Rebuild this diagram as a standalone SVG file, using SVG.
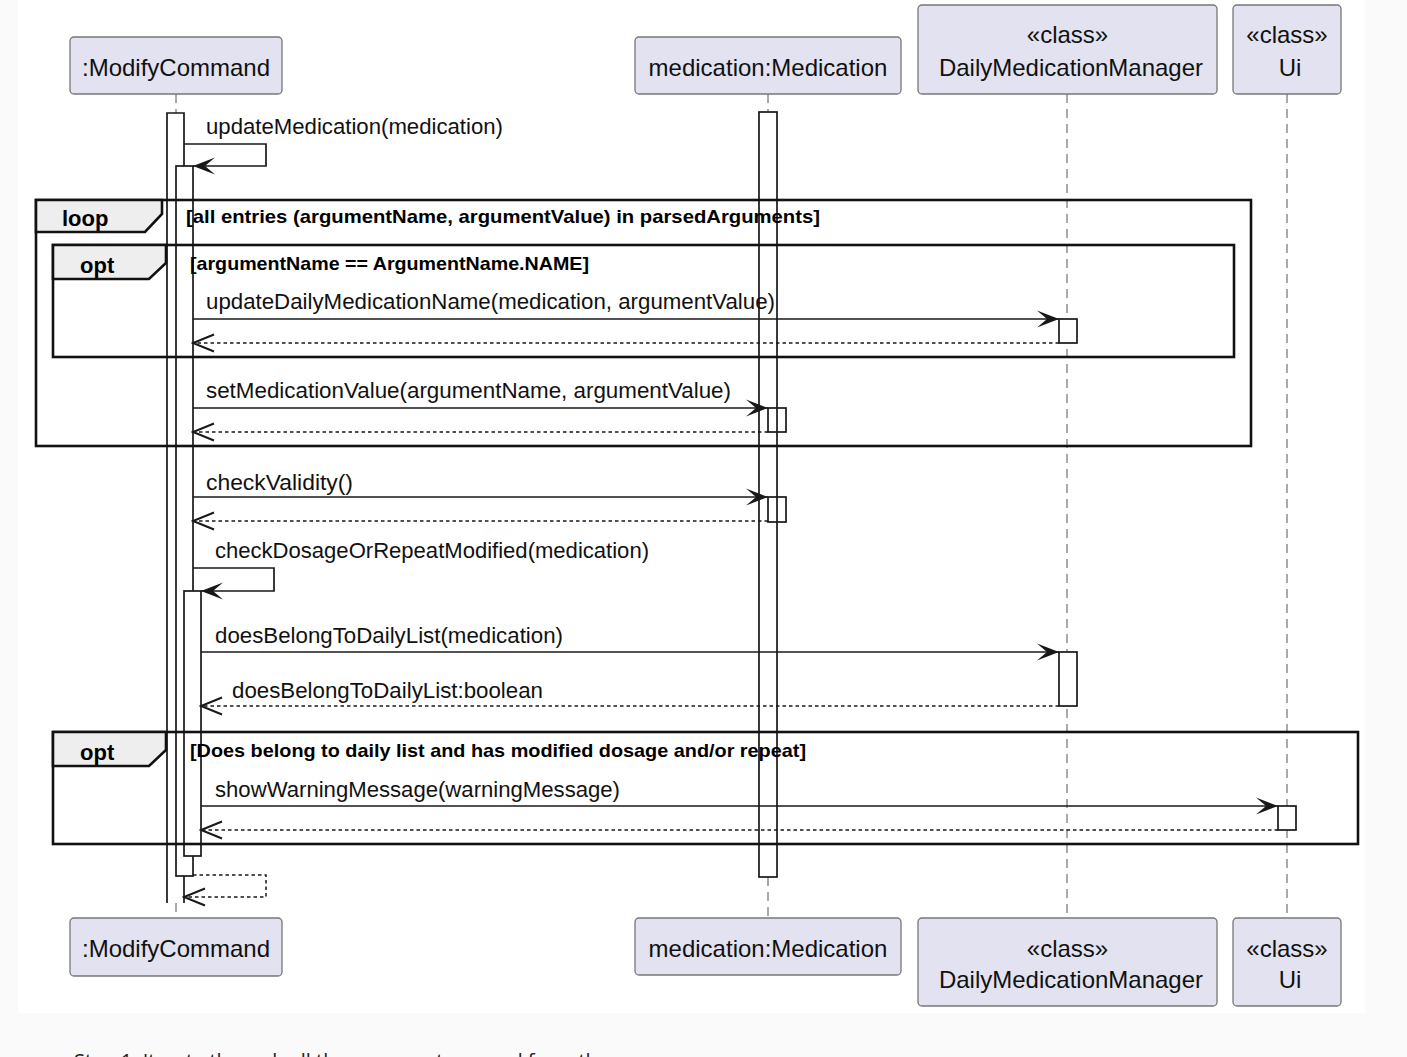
<svg xmlns="http://www.w3.org/2000/svg" width="1407" height="1057" viewBox="0 0 1407 1057">
<style>
.part{fill:#E2E2F0;stroke:#777;stroke-width:1.3}
.ptxt{font-family:"Liberation Sans",Arial,sans-serif;font-size:24px;fill:#111;text-anchor:middle}
.life{stroke:#555;stroke-width:1;stroke-dasharray:9 6;fill:none}
.act{fill:#fff;stroke:#181818;stroke-width:1.7}
.actn{fill:none;stroke:#181818;stroke-width:1.7}
.frame{fill:none;stroke:#111;stroke-width:2.6}
.tab{fill:#EEEEEE;stroke:#111;stroke-width:2.6}
.ftxt{font-family:"Liberation Sans",Arial,sans-serif;font-size:22px;font-weight:bold;fill:#000}
.gtxt{font-family:"Liberation Sans",Arial,sans-serif;font-size:19px;font-weight:bold;fill:#000}
.msg{fill:none;stroke:#181818;stroke-width:1.7}
.ret{fill:none;stroke:#181818;stroke-width:1.5;stroke-dasharray:3.5 3}
.mtxt{font-family:"Liberation Sans",Arial,sans-serif;font-size:22px;fill:#111}
</style>
<defs>
<marker id="ah" viewBox="-24 -10 26 20" refX="0" refY="0" markerWidth="26" markerHeight="20" markerUnits="userSpaceOnUse" orient="auto">
<polygon points="0,0 -22,-8.5 -12,0 -22,8.5" fill="#181818"/>
</marker>
<marker id="oh" viewBox="-24 -10 26 20" refX="0" refY="0" markerWidth="26" markerHeight="20" markerUnits="userSpaceOnUse" orient="auto">
<polyline points="-21,-8.5 0,0 -21,8.5" fill="none" stroke="#181818" stroke-width="2"/>
</marker>
</defs>
<rect x="0" y="0" width="1407" height="1057" fill="#fafafa"/>
<rect x="18" y="0" width="1347" height="1013" fill="#ffffff"/>

<g id="lifelines">
<line class="life" x1="176" y1="94" x2="176" y2="113"/>
<line class="life" x1="176" y1="903" x2="176" y2="918"/>
<line class="life" x1="768" y1="94" x2="768" y2="112"/>
<line class="life" x1="768" y1="877" x2="768" y2="918"/>
<line class="life" x1="1067" y1="94" x2="1067" y2="918"/>
<line class="life" x1="1287" y1="94" x2="1287" y2="918"/>
</g>

<g id="activations">
<path class="act" d="M167,903 V113 H184 V903"/>
<rect class="act" x="176" y="166" width="17" height="710"/>
<rect class="act" x="184" y="591" width="17" height="265"/>
<rect class="act" x="759" y="112" width="18" height="765"/>
<rect class="actn" x="768" y="408" width="18" height="24"/>
<rect class="actn" x="768" y="497" width="18" height="25"/>
<rect class="act" x="1059" y="319" width="18" height="24"/>
<rect class="act" x="1059" y="652" width="18" height="54"/>
<rect class="act" x="1278" y="806" width="18" height="24"/>
</g>

<g id="frames">
<g id="loop1">
<rect class="frame" x="36" y="200" width="1215" height="246"/>
<path class="tab" d="M36,200 H162 V214 L145,232 H36 Z"/>
<text class="ftxt" x="62" y="226">loop</text>
<text class="gtxt" x="186" y="223" textLength="634" lengthAdjust="spacingAndGlyphs">[all entries (argumentName, argumentValue) in parsedArguments]</text>
</g>
<g id="opt1">
<rect class="frame" x="53" y="245" width="1181" height="112"/>
<path class="tab" d="M53,245 H166 V263 L149,279 H53 Z"/>
<text class="ftxt" x="80" y="273">opt</text>
<text class="gtxt" x="190" y="270" textLength="399" lengthAdjust="spacingAndGlyphs">[argumentName == ArgumentName.NAME]</text>
</g>
<g id="opt2">
<rect class="frame" x="53" y="732" width="1305" height="112"/>
<path class="tab" d="M53,732 H166 V750 L149,766 H53 Z"/>
<text class="ftxt" x="80" y="760">opt</text>
<text class="gtxt" x="190" y="757" textLength="616" lengthAdjust="spacingAndGlyphs">[Does belong to daily list and has modified dosage and/or repeat]</text>
</g>
</g>

<g id="connectors">
<path class="msg" d="M184,144 H266 V166 H193" marker-end="url(#ah)"/>
<text class="mtxt" x="206" y="134" textLength="297" lengthAdjust="spacingAndGlyphs">updateMedication(medication)</text>

<line class="msg" x1="193" y1="319" x2="1059" y2="319" marker-end="url(#ah)"/>
<text class="mtxt" x="206" y="309" textLength="569" lengthAdjust="spacingAndGlyphs">updateDailyMedicationName(medication, argumentValue)</text>
<line class="ret" x1="1059" y1="343" x2="193" y2="343" marker-end="url(#oh)"/>

<line class="msg" x1="193" y1="408" x2="768" y2="408" marker-end="url(#ah)"/>
<text class="mtxt" x="206" y="398" textLength="525" lengthAdjust="spacingAndGlyphs">setMedicationValue(argumentName, argumentValue)</text>
<line class="ret" x1="768" y1="432" x2="193" y2="432" marker-end="url(#oh)"/>

<line class="msg" x1="193" y1="497" x2="768" y2="497" marker-end="url(#ah)"/>
<text class="mtxt" x="206" y="490" textLength="147" lengthAdjust="spacingAndGlyphs">checkValidity()</text>
<line class="ret" x1="768" y1="521" x2="193" y2="521" marker-end="url(#oh)"/>

<path class="msg" d="M193,568 H274 V591 H201" marker-end="url(#ah)"/>
<text class="mtxt" x="215" y="558" textLength="434" lengthAdjust="spacingAndGlyphs">checkDosageOrRepeatModified(medication)</text>

<line class="msg" x1="201" y1="652" x2="1059" y2="652" marker-end="url(#ah)"/>
<text class="mtxt" x="215" y="643" textLength="348" lengthAdjust="spacingAndGlyphs">doesBelongToDailyList(medication)</text>
<line class="ret" x1="1059" y1="706" x2="201" y2="706" marker-end="url(#oh)"/>
<text class="mtxt" x="232" y="698" textLength="311" lengthAdjust="spacingAndGlyphs">doesBelongToDailyList:boolean</text>

<line class="msg" x1="201" y1="806" x2="1278" y2="806" marker-end="url(#ah)"/>
<text class="mtxt" x="215" y="797" textLength="405" lengthAdjust="spacingAndGlyphs">showWarningMessage(warningMessage)</text>
<line class="ret" x1="1278" y1="830" x2="201" y2="830" marker-end="url(#oh)"/>

<path class="ret" d="M193,875 H266 V897 H184" marker-end="url(#oh)"/>
</g>

<g id="modifyCommand">
<rect class="part" x="70" y="37" width="212" height="57" rx="4"/>
<text class="ptxt" x="176" y="76">:ModifyCommand</text>
<rect class="part" x="70" y="918" width="212" height="58" rx="4"/>
<text class="ptxt" x="176" y="957">:ModifyCommand</text>
</g>
<g id="medication">
<rect class="part" x="635" y="37" width="266" height="57" rx="4"/>
<text class="ptxt" x="768" y="76">medication:Medication</text>
<rect class="part" x="635" y="918" width="266" height="57" rx="4"/>
<text class="ptxt" x="768" y="957">medication:Medication</text>
</g>
<g id="dailyMedicationManager">
<rect class="part" x="918" y="5" width="299" height="89" rx="4"/>
<text class="ptxt" x="1067.5" y="43">«class»</text>
<text class="ptxt" x="1071" y="76">DailyMedicationManager</text>
<rect class="part" x="918" y="918" width="299" height="88" rx="4"/>
<text class="ptxt" x="1067.5" y="957">«class»</text>
<text class="ptxt" x="1071" y="988">DailyMedicationManager</text>
</g>
<g id="ui">
<rect class="part" x="1233" y="5" width="108" height="89" rx="4"/>
<text class="ptxt" x="1287" y="43">«class»</text>
<text class="ptxt" x="1290" y="76">Ui</text>
<rect class="part" x="1233" y="918" width="108" height="88" rx="4"/>
<text class="ptxt" x="1287" y="957">«class»</text>
<text class="ptxt" x="1290" y="988">Ui</text>
</g>

<text x="74" y="1068" font-family="'Open Sans','Noto Sans',sans-serif" font-size="20" fill="#222">Step 1: Iterate through all the arguments parsed from the</text>
</svg>
